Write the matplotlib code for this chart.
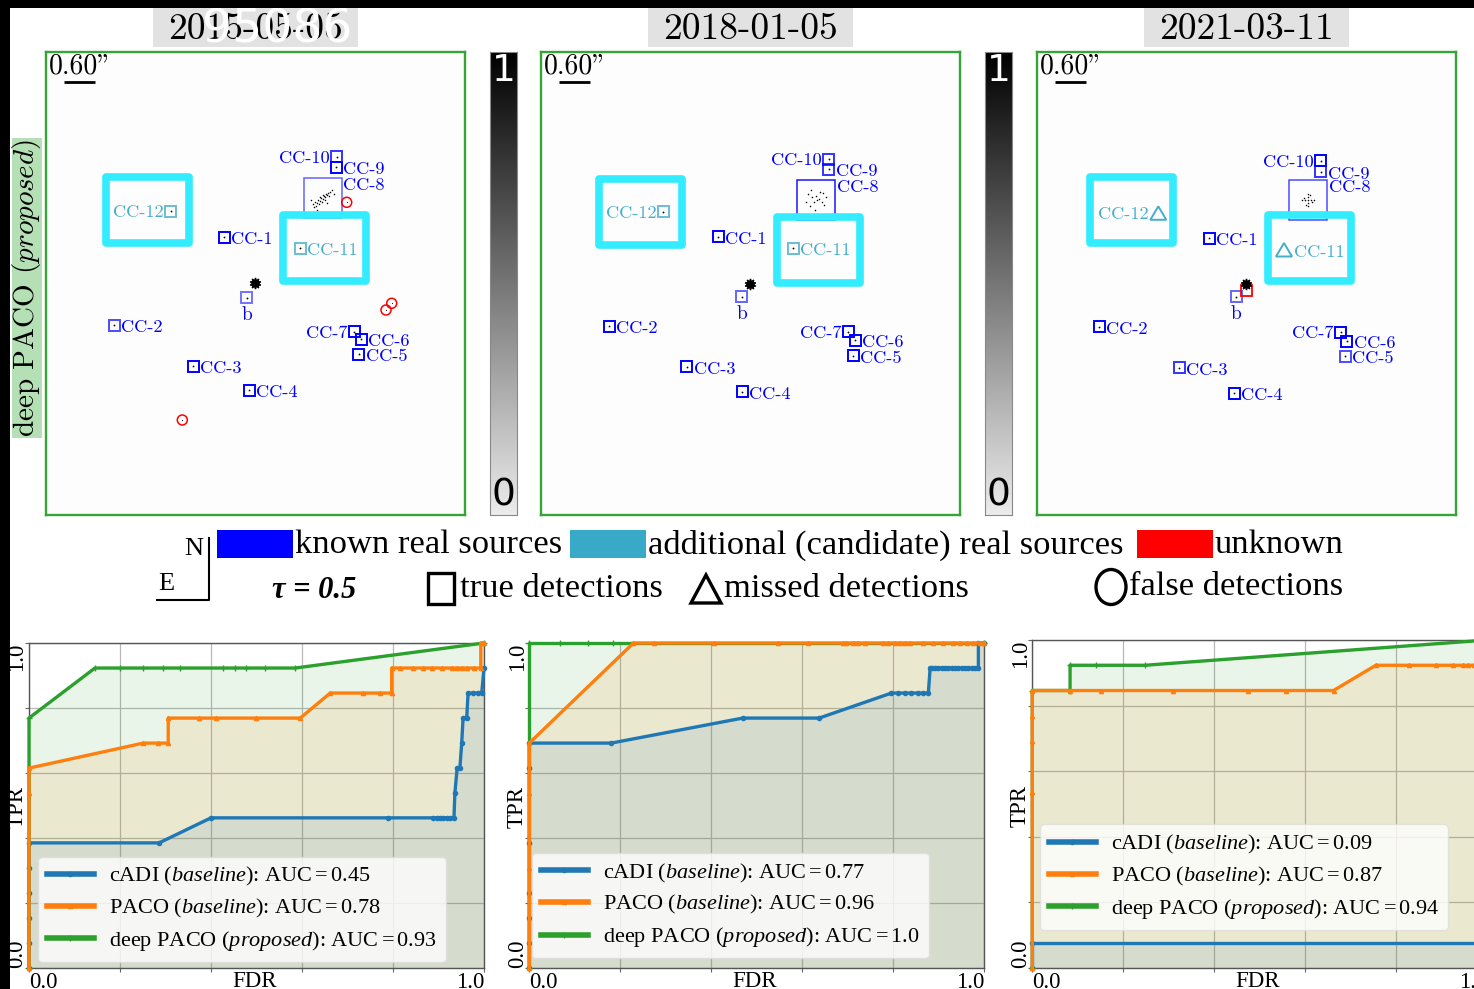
import numpy as np
import matplotlib.pyplot as plt
from matplotlib.patches import Rectangle, Circle, Polygon, Ellipse
from matplotlib.lines import Line2D
from matplotlib.colors import LinearSegmentedColormap

plt.rcParams['mathtext.fontset'] = 'custom'
plt.rcParams['mathtext.rm'] = 'Liberation Serif'
plt.rcParams['mathtext.it'] = 'Liberation Serif:italic'
plt.rcParams['mathtext.bf'] = 'Liberation Serif:bold'
plt.rcParams['axes.unicode_minus'] = False

# ---------------------------------------------------------------
# observation epochs and detection maps (positions in map pixels)
# ---------------------------------------------------------------
EPOCHS = ['2015-05-05', '2018-01-05', '2021-03-11']
SOURCES = ['b', 'CC-1', 'CC-2', 'CC-3', 'CC-4', 'CC-5', 'CC-6', 'CC-7',
           'CC-8', 'CC-9', 'CC-10', 'CC-11', 'CC-12']
CANDIDATES = ['CC-11', 'CC-12']

src_x_2015 = [200.7, 178.0, 68.0, 147.3, 203.3, 312.7, 315.0, 308.3, 276.5, 290.0, 290.7, 254.0, 124.7]
src_y_2015 = [245.7, 185.3, 273.0, 314.0, 338.0, 302.0, 287.3, 279.7, 145.5, 115.3, 104.7, 196.3, 159.0]
src_x_2018 = [200.7, 177.3, 68.0, 145.7, 201.3, 312.3, 314.0, 307.3, 274.5, 287.7, 287.7, 252.3, 122.3]
src_y_2018 = [244.7, 184.7, 274.0, 314.7, 339.7, 303.7, 288.0, 279.7, 147.7, 117.3, 107.3, 196.3, 159.7]
src_x_2021 = [199.0, 172.3, 62.3, 142.3, 197.3, 308.0, 309.7, 303.7, 270.5, 283.7, 283.7, 247.0, 121.3]
src_y_2021 = [244.7, 186.3, 274.7, 315.7, 341.3, 304.0, 289.0, 280.3, 148.0, 119.7, 108.7, 198.0, 161.3]

# detection strength shown as marker opacity
src_alpha_2015 = [0.55, 1.0, 0.7, 1.0, 1.0, 1.0, 1.0, 1.0, 0.6, 1.0, 0.8, 0.8, 0.8]
src_alpha_2018 = [0.6, 1.0, 1.0, 1.0, 1.0, 1.0, 1.0, 1.0, 0.9, 0.8, 0.8, 0.8, 0.8]
src_alpha_2021 = [0.6, 1.0, 1.0, 0.8, 1.0, 0.7, 1.0, 1.0, 0.7, 0.8, 1.0, 0.8, 0.8]
missed_2015 = []
missed_2018 = []
missed_2021 = ['CC-11', 'CC-12']

# candidate highlight boxes (CC-12, CC-11)
cand_box_x = [[101.3, 278.5], [99.5, 277.0], [94.7, 272.7]]
cand_box_y = [[157.8, 196.3], [159.7, 198.3], [158.0, 196.3]]

star_x = [209.0, 209.0, 209.0]
star_y = [231.3, 232.0, 232.0]

false_x_2015 = [300.7, 340.0, 345.7, 136.3]
false_y_2015 = [150.3, 258.0, 251.3, 368.0]
unknown_sq_x_2021 = [209.0]
unknown_sq_y_2021 = [238.0]

# speckle pattern inside the CC-8 box (offsets from box centre)
cc8_dx_2015 = [-10, -8, -6, -5, -3, -2, 0, 1, 2, 3, 4, -7, -4, -1, 2, 5, 6, -9, 7, 0, -3, 9, -12, 11, -6, 4]
cc8_dy_2015 = [6, 4, 5, 2, 3, 0, 1, -2, -1, -4, -3, 8, 6, 4, 2, -5, -2, 9, -6, -3, -1, -8, 2, -4, 12, 5]
cc8_dx_2018 = [-8, -4, 0, 3, 6, 8, -2, 1, -6, 10, -10, 4, -1, 7, -5]
cc8_dy_2018 = [-6, -3, -4, -1, 2, 5, 2, 0, 6, -3, 2, -8, 10, -7, -10]
cc8_dx_2021 = [0, 0, 0, 0, 0, -3, 3, -6, 6, -4, 4, -2, 2]
cc8_dy_2021 = [0, -3, 3, 6, -6, 0, 0, 0, 0, -2, 2, 5, -5]

# ---------------------------------------------------------------
# ROC curves (FDR, TPR) per epoch
# ---------------------------------------------------------------
cadi_fdr_2015 = [0, 0, 0, 0, 0, 0, 0.286, 0.400, 0.790, 0.889, 0.896, 0.903, 0.910, 0.918, 0.925,
                 0.934, 0.936, 0.941, 0.947, 0.951, 0.954, 0.962, 0.965, 0.976, 0.986, 0.995, 1.0]
cadi_tpr_2015 = [0, 0.077, 0.154, 0.231, 0.308, 0.385, 0.385, 0.462, 0.462, 0.462, 0.462, 0.462, 0.462, 0.462, 0.462,
                 0.462, 0.538, 0.615, 0.615, 0.692, 0.769, 0.769, 0.846, 0.846, 0.846, 0.846, 0.923]
paco_fdr_2015 = [0, 0, 0, 0.251, 0.284, 0.306, 0.306, 0.374, 0.411, 0.499, 0.596, 0.662, 0.735, 0.771, 0.797,
                 0.797, 0.815, 0.845, 0.867, 0.885, 0.907, 0.929, 0.940, 0.951, 0.962, 0.977, 0.993, 0.993, 1.0]
paco_tpr_2015 = [0, 0.538, 0.615, 0.692, 0.692, 0.692, 0.769, 0.769, 0.769, 0.769, 0.769, 0.846, 0.846, 0.846, 0.846,
                 0.923, 0.923, 0.923, 0.923, 0.923, 0.923, 0.923, 0.923, 0.923, 0.923, 0.923, 0.923, 1.0, 1.0]
deep_fdr_2015 = [0, 0, 0.145, 0.200, 0.251, 0.295, 0.332, 0.427, 0.453, 0.478, 0.519, 0.585, 1.0]
deep_tpr_2015 = [0, 0.769, 0.923, 0.923, 0.923, 0.923, 0.923, 0.923, 0.923, 0.923, 0.923, 0.923, 1.0]

cadi_fdr_2018 = [0, 0, 0, 0, 0, 0, 0, 0.180, 0.469, 0.637, 0.796, 0.811, 0.826, 0.840, 0.855, 0.866, 0.877,
                 0.881, 0.884, 0.892, 0.899, 0.906, 0.914, 0.921, 0.928, 0.935, 0.943, 0.950, 0.957, 0.965,
                 0.972, 0.979, 0.987, 0.987, 1.0]
cadi_tpr_2018 = [0, 0.077, 0.154, 0.231, 0.385, 0.615, 0.692, 0.692, 0.769, 0.769, 0.846, 0.846, 0.846, 0.846,
                 0.846, 0.846, 0.846, 0.923, 0.923, 0.923, 0.923, 0.923, 0.923, 0.923, 0.923, 0.923, 0.923,
                 0.923, 0.923, 0.923, 0.923, 0.923, 0.923, 1.0, 1.0]
paco_fdr_2018 = [0, 0, 0, 0, 0.229, 0.273, 0.405, 0.547, 0.613, 0.690, 0.697, 0.712, 0.723, 0.738, 0.778,
                 0.789, 0.804, 0.815, 0.826, 0.837, 0.866, 0.888, 0.910, 0.932, 0.947, 0.961, 0.976, 0.990, 1.0]
paco_tpr_2018 = [0, 0.308, 0.538, 0.692, 1.0, 1.0, 1.0, 1.0, 1.0, 1.0, 1.0, 1.0, 1.0, 1.0, 1.0,
                 1.0, 1.0, 1.0, 1.0, 1.0, 1.0, 1.0, 1.0, 1.0, 1.0, 1.0, 1.0, 1.0, 1.0]
deep_fdr_2018 = [0, 0, 0.068, 0.130, 0.185, 1.0]
deep_tpr_2018 = [0, 1.0, 1.0, 1.0, 1.0, 1.0]

cadi_fdr_2021 = [0, 0, 1.0, 1.0]
cadi_tpr_2021 = [0, 0.077, 0.077, 1.0]
paco_fdr_2021 = [0, 0, 0, 0, 0, 0.083, 0.152, 0.310, 0.473, 0.557, 0.662, 0.755, 0.829, 0.887, 0.924,
                 0.946, 0.958, 0.971, 1.0, 1.0]
paco_tpr_2021 = [0, 0.538, 0.692, 0.769, 0.846, 0.846, 0.846, 0.846, 0.846, 0.846, 0.846, 0.923, 0.923,
                 0.923, 0.923, 0.923, 0.923, 0.923, 0.923, 1.0]
deep_fdr_2021 = [0, 0, 0.083, 0.083, 0.141, 0.248, 1.0]
deep_tpr_2021 = [0, 0.846, 0.846, 0.923, 0.923, 0.923, 1.0]

auc_cadi = [0.45, 0.77, 0.09]
auc_paco = [0.78, 0.96, 0.87]
auc_deep = [0.93, 1.0, 0.94]

# ---------------------------------------------------------------
W, H = 1474, 989
fig = plt.figure(figsize=(W / 100, H / 100), dpi=100)


def fx(x):
    return x / W


def fy(y):
    return 1 - y / H


def px_axes(x0, y0, w, h):
    return fig.add_axes([fx(x0), fy(y0 + h), w / W, h / H])


BLUE = '#0000ff'
CAND = '#46aecb'
CYAN = '#33ecff'
FRAME_GREEN = '#35a535'
CM = dict(family='cmr10', math_fontfamily='cm')

src_x = [src_x_2015, src_x_2018, src_x_2021]
src_y = [src_y_2015, src_y_2018, src_y_2021]
src_alpha = [src_alpha_2015, src_alpha_2018, src_alpha_2021]
missed = [missed_2015, missed_2018, missed_2021]
cc8_dx = [cc8_dx_2015, cc8_dx_2018, cc8_dx_2021]
cc8_dy = [cc8_dy_2015, cc8_dy_2018, cc8_dy_2021]

label_side = {'b': 'below', 'CC-7': 'left', 'CC-10': 'left', 'CC-12': 'left', 'CC-8': 'box'}

map_left = [46, 541, 1037]
cbar_left = [490, 985]
PW, PH = 419, 463
LBL = 13.2

gray_cmap = LinearSegmentedColormap.from_list('bar', ['#ececec', '#000000'])

for k in range(3):
    ax = px_axes(map_left[k], 52, PW, PH)
    ax.set_xlim(0, PW)
    ax.set_ylim(PH, 0)
    ax.set_facecolor('#fdfdfd')
    ax.set_xticks([])
    ax.set_yticks([])
    for s in ax.spines.values():
        s.set_color(FRAME_GREEN)
        s.set_linewidth(1.7)

    # scale bar
    ax.text(3, 1, '0.60"', fontsize=20, va='top', ha='left', **CM)
    ax.plot([18, 49], [30, 30], color='black', lw=2, solid_capstyle='butt')

    for name, x, y, a in zip(SOURCES, src_x[k], src_y[k], src_alpha[k]):
        col = CAND if name in CANDIDATES else BLUE
        if name in missed[k]:
            ax.add_patch(Polygon([(x - 8, y + 6.5), (x + 8, y + 6.5), (x, y - 7)], closed=True,
                                 fill=False, ec=CAND, lw=1.4))
            off = 10
        elif name == 'CC-8':
            ax.add_patch(Rectangle((x - 19, y - 20), 38, 40, fill=False, ec=BLUE, lw=1.1, alpha=a))
            ax.scatter(x + np.array(cc8_dx[k]), y + np.array(cc8_dy[k]), s=1.2, color='black', lw=0)
            off = 7
        else:
            ax.add_patch(Rectangle((x - 5.5, y - 5.5), 11, 11, fill=False, ec=col, lw=1.4, alpha=a))
            ax.plot(x, y, 'o', color='black', ms=1.3, mew=0)
            off = 7
        side = label_side.get(name, 'right')
        if side == 'right':
            ax.text(x + off, y + 1, name, color=col, fontsize=LBL, ha='left', va='center_baseline', **CM)
        elif side == 'left':
            ax.text(x - off, y, name, color=col, fontsize=LBL, ha='right', va='center_baseline', **CM)
        elif side == 'below':
            ax.text(x, y + 8, name, color=col, fontsize=14, ha='center', va='top', **CM)
        else:
            ax.text(x + 21, y - 14, name, color=col, fontsize=LBL, ha='left', va='center_baseline', **CM)

    for bx, by in zip(cand_box_x[k], cand_box_y[k]):
        ax.add_patch(Rectangle((bx - 41.5, by - 33), 83, 66, fill=False, ec=CYAN, lw=5.5,
                               joinstyle='round', zorder=4))

    ax.plot(star_x[k], star_y[k], marker=(10, 1, 0), color='black', ms=8, zorder=5)

    if k == 0:
        for x, y in zip(false_x_2015, false_y_2015):
            ax.add_patch(Circle((x, y), 5, fill=False, ec='red', lw=1.1))
            ax.plot(x, y, 'o', color='black', ms=0.8, mew=0)
    if k == 2:
        for x, y in zip(unknown_sq_x_2021, unknown_sq_y_2021):
            ax.add_patch(Rectangle((x - 5.5, y - 5.5), 11, 11, fill=False, ec='red', lw=1.3, zorder=4))

    # date headers
    cx = map_left[k] + PW / 2
    fig.add_artist(Rectangle((fx(cx - 102.5), fy(47)), 205 / W, 39 / H, transform=fig.transFigure,
                             color='#e2e2e2', lw=0))
    fig.text(fx(cx), fy(29), EPOCHS[k], fontsize=27, ha='center', va='center', **CM)

# white overlay label on the first header
fig.text(fx(277), fy(30), '95086', fontsize=34, color='white', ha='center', va='center',
         family='DejaVu Sans')

# probability colour bars
for x0 in cbar_left:
    cax = px_axes(x0, 52, 27, PH)
    cax.imshow(np.linspace(1, 0, 256)[:, None], aspect='auto', cmap=gray_cmap, extent=[0, 1, 0, 1])
    cax.set_xticks([])
    cax.set_yticks([])
    for s in cax.spines.values():
        s.set_color('#888888')
        s.set_linewidth(0.8)
    cax.text(0.5, 0.997, '1', color='white', fontsize=27, ha='center', va='top',
             transform=cax.transAxes, family='DejaVu Sans')
    cax.text(0.5, 0.003, '0', color='black', fontsize=27, ha='center', va='bottom',
             transform=cax.transAxes, family='DejaVu Sans')

# row label
fig.add_artist(Rectangle((fx(12), fy(438)), 30 / W, 300 / H, transform=fig.transFigure,
                         color='#b5dfb5', lw=0))
fig.text(fx(27), fy(288), r'deep PACO $\mathit{(proposed)}$', rotation=90, fontsize=21,
         ha='center', va='center', **CM)

# ---------------------------------------------------------------
# legend strip
# ---------------------------------------------------------------
SERIF = ['Liberation Serif', 'DejaVu Serif']
fig.add_artist(Line2D([fx(209), fx(209), fx(157)], [fy(538), fy(600), fy(600)],
                      transform=fig.transFigure, color='black', lw=1.5))
fig.text(fx(194), fy(549), 'N', fontsize=19, ha='center', va='center', family=SERIF)
fig.text(fx(166), fy(584), 'E', fontsize=19, ha='center', va='center', family=SERIF)

patch_items = [(217, BLUE, 'known real sources'),
               (570, '#39a9c8', 'additional (candidate) real sources'),
               (1137, '#ff0000', 'unknown')]
for x0, c, txt in patch_items:
    fig.add_artist(Rectangle((fx(x0), fy(558)), 76 / W, 28 / H, transform=fig.transFigure,
                             color=c, lw=0))
    fig.text(fx(x0 + 78), fy(545), txt, fontsize=24.8, ha='left', va='center', family=SERIF)

fig.text(fx(314), fy(591), 'τ = 0.5', fontsize=22, fontweight='bold', fontstyle='italic',
         ha='center', va='center', family=SERIF)
fig.add_artist(Rectangle((fx(428), fy(604)), 26 / W, 31 / H, transform=fig.transFigure,
                         fill=False, ec='black', lw=2.4))
fig.text(fx(460), fy(589), 'true detections', fontsize=24.8, ha='left', va='center', family=SERIF)
fig.add_artist(Polygon([(fx(691), fy(603)), (fx(721), fy(603)), (fx(706), fy(575))], closed=True,
                       transform=fig.transFigure, fill=False, ec='black', lw=2.4))
fig.text(fx(724), fy(589), 'missed detections', fontsize=24.8, ha='left', va='center', family=SERIF)
fig.add_artist(Ellipse((fx(1111), fy(587)), 30 / W, 35 / H, transform=fig.transFigure,
                       fill=False, ec='black', lw=2.4))
fig.text(fx(1129), fy(587), 'false detections', fontsize=24.8, ha='left', va='center', family=SERIF)

# ---------------------------------------------------------------
# ROC panels
# ---------------------------------------------------------------
roc_curves = [
    (cadi_fdr_2015, cadi_tpr_2015, paco_fdr_2015, paco_tpr_2015, deep_fdr_2015, deep_tpr_2015),
    (cadi_fdr_2018, cadi_tpr_2018, paco_fdr_2018, paco_tpr_2018, deep_fdr_2018, deep_tpr_2018),
    (cadi_fdr_2021, cadi_tpr_2021, paco_fdr_2021, paco_tpr_2021, deep_fdr_2021, deep_tpr_2021),
]
roc_left = [29, 529.3, 1032.3]
roc_top = [643, 643, 640]
legend_anchor = [(0.02, 0.018), (0.006, 0.03), (0.017, 0.116)]

C_BLUE, C_ORANGE, C_GREEN = '#1f77b4', '#ff7f0e', '#2ca02c'

for k in range(3):
    ax = px_axes(roc_left[k], roc_top[k], 455, 968 - roc_top[k])
    ax.set_xlim(0, 1)
    ax.set_ylim(0, 1)
    cf, ct, pf, pt, df, dt = roc_curves[k]

    ax.fill_between(df, dt, 0, color=C_GREEN, alpha=0.1, lw=0, zorder=1)
    ax.fill_between(pf, pt, 0, color=C_ORANGE, alpha=0.11, lw=0, zorder=1)
    ax.fill_between(cf, ct, 0, color=C_BLUE, alpha=0.1, lw=0, zorder=1)

    h_c, = ax.plot(cf, ct, color=C_BLUE, lw=2.4, marker='o', ms=3, zorder=3, clip_on=False,
                   label=r'cADI $\mathit{(baseline)}$: $\mathrm{AUC}=%s$' % auc_cadi[k])
    h_d, = ax.plot(df, dt, color=C_GREEN, lw=2.4, marker='+', ms=4, zorder=3, clip_on=False,
                   label=r'deep PACO $\mathit{(proposed)}$: $\mathrm{AUC}=%s$' % auc_deep[k])
    h_p, = ax.plot(pf, pt, color=C_ORANGE, lw=2.4, marker='^', ms=3, zorder=3, clip_on=False,
                   label=r'PACO $\mathit{(baseline)}$: $\mathrm{AUC}=%s$' % auc_paco[k])

    ax.set_xticks([0, 0.2, 0.4, 0.6, 0.8, 1.0])
    ax.set_yticks([0, 0.2, 0.4, 0.6, 0.8, 1.0])
    ax.set_xticklabels([])
    ax.set_yticklabels([])
    ax.tick_params(length=3, width=0.8, color='#666666')
    ax.grid(True, color='#b8b8b8', lw=0.9)
    ax.set_axisbelow(True)
    for s in ax.spines.values():
        s.set_color('#555555')
        s.set_linewidth(1.0)

    h_px = 968 - roc_top[k]
    ax.text(-12 / 455, 1.0, '1.0', rotation=90, fontsize=16.5, ha='center', va='top',
            transform=ax.transAxes, family=SERIF)
    ax.text(-12 / 455, 0.0, '0.0', rotation=90, fontsize=16.5, ha='center', va='bottom',
            transform=ax.transAxes, family=SERIF)
    ax.text(-12 / 455, 0.495, 'TPR', rotation=90, fontsize=16.5, ha='center', va='center',
            transform=ax.transAxes, family=SERIF)
    ax.text(0.0, -4 / h_px, '0.0', fontsize=16.5, ha='left', va='top', transform=ax.transAxes, family=SERIF)
    ax.text(1.0, -4 / h_px, '1.0', fontsize=16.5, ha='right', va='top', transform=ax.transAxes, family=SERIF)
    ax.text(0.495, -3 / h_px, 'FDR', fontsize=16.5, ha='center', va='top', transform=ax.transAxes, family=SERIF)

    leg = ax.legend(handles=[h_c, h_p, h_d], loc='lower left', bbox_to_anchor=legend_anchor[k],
                    borderaxespad=0, labelspacing=0.4, handlelength=2.1,
                    handletextpad=0.7, fancybox=True, framealpha=0.8, edgecolor='#dddddd',
                    prop={'family': SERIF, 'size': 16})
    for line in leg.get_lines():
        line.set_linewidth(4)

# black borders of the scan
fig.add_artist(Rectangle((0, fy(8)), 1, 8 / H, transform=fig.transFigure, color='black', lw=0, zorder=10))
fig.add_artist(Rectangle((0, 0), 10 / W, 1, transform=fig.transFigure, color='black', lw=0, zorder=10))

fig.savefig('out.png', dpi=100)
